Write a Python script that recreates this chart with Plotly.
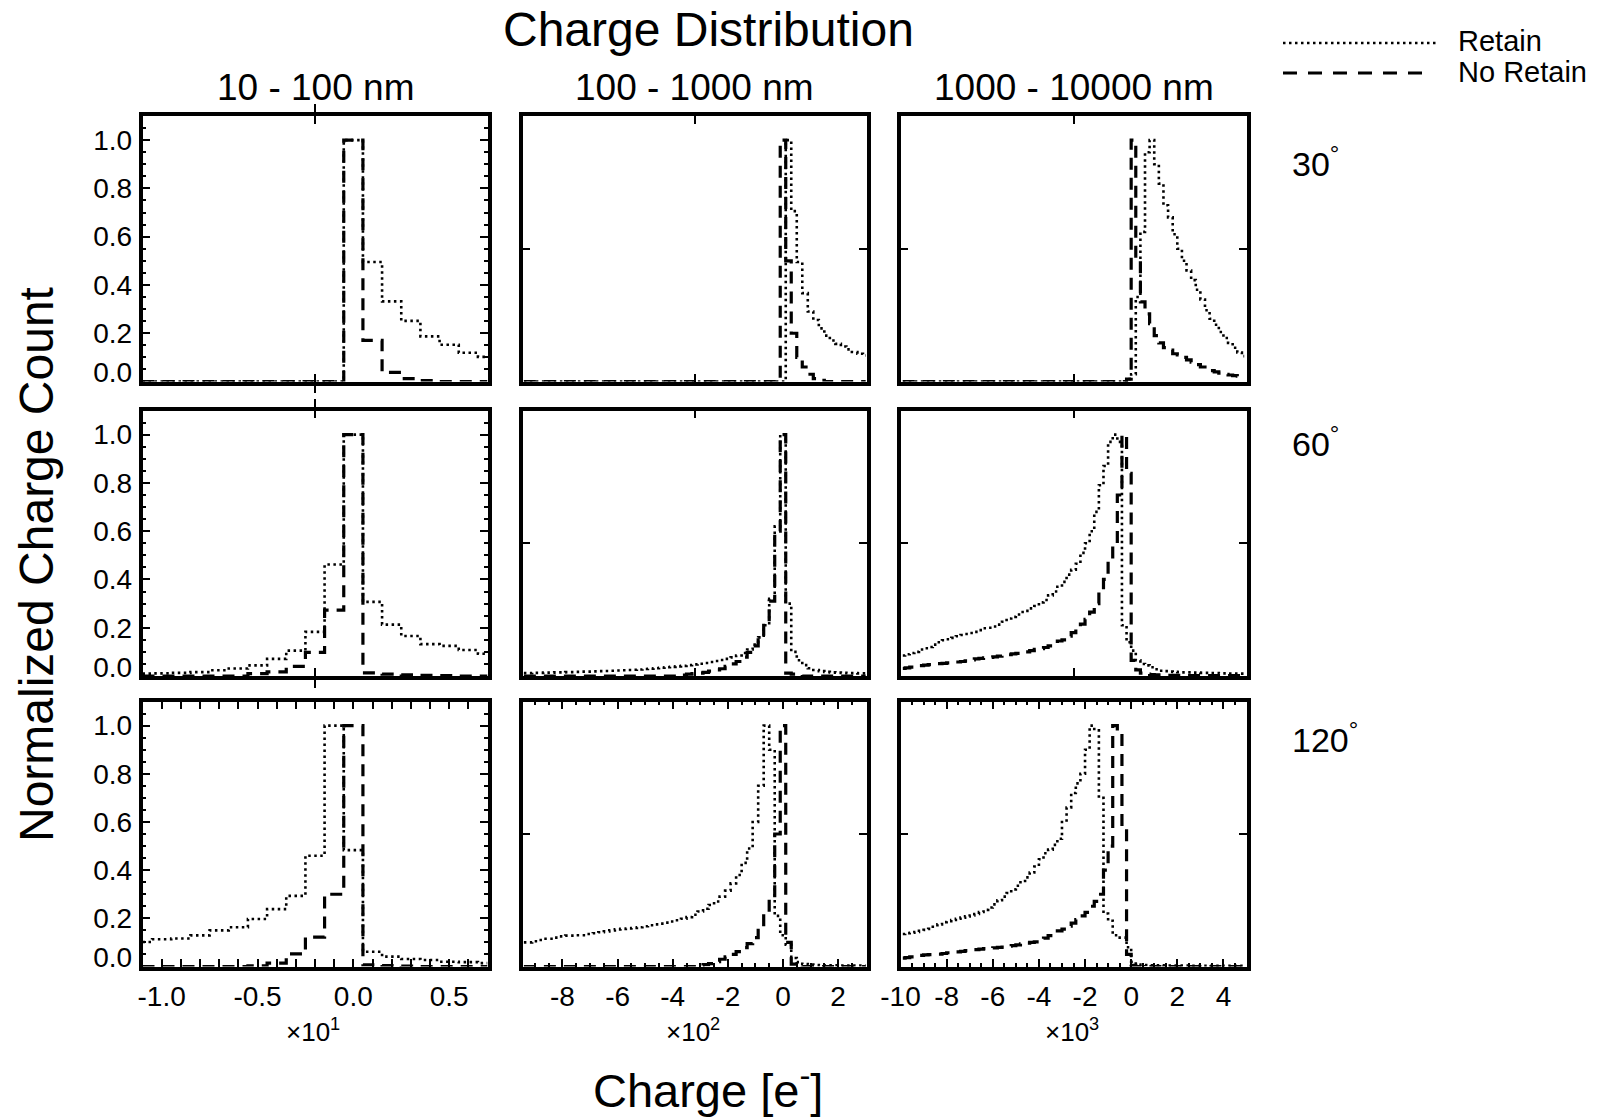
import plotly.graph_objects as go

# ---------------- data ----------------
# bin centres (x in units of 10^1, 10^2, 10^3 e- respectively)
X_C1 = [-1.1, -1.0, -0.9, -0.8, -0.7, -0.6, -0.5, -0.4, -0.3, -0.2,
        -0.1, 0.0, 0.1, 0.2, 0.3, 0.4, 0.5, 0.6, 0.7]
X_C2 = [-9.4, -9.2, -9.0, -8.8, -8.6, -8.4, -8.2, -8.0, -7.8, -7.6,
        -7.4, -7.2, -7.0, -6.8, -6.6, -6.4, -6.2, -6.0, -5.8, -5.6,
        -5.4, -5.2, -5.0, -4.8, -4.6, -4.4, -4.2, -4.0, -3.8, -3.6,
        -3.4, -3.2, -3.0, -2.8, -2.6, -2.4, -2.2, -2.0, -1.8, -1.6,
        -1.4, -1.2, -1.0, -0.8, -0.6, -0.4, -0.2, 0.0, 0.2, 0.4,
        0.6, 0.8, 1.0, 1.2, 1.4, 1.6, 1.8, 2.0, 2.2, 2.4,
        2.6, 2.8, 3.0]
X_C3 = [-9.9, -9.7, -9.5, -9.3, -9.1, -8.9, -8.7, -8.5, -8.3, -8.1,
        -7.9, -7.7, -7.5, -7.3, -7.1, -6.9, -6.7, -6.5, -6.3, -6.1,
        -5.9, -5.7, -5.5, -5.3, -5.1, -4.9, -4.7, -4.5, -4.3, -4.1,
        -3.9, -3.7, -3.5, -3.3, -3.1, -2.9, -2.7, -2.5, -2.3, -2.1,
        -1.9, -1.7, -1.5, -1.3, -1.1, -0.9, -0.7, -0.5, -0.3, -0.1,
        0.1, 0.3, 0.5, 0.7, 0.9, 1.1, 1.3, 1.5, 1.7, 1.9,
        2.1, 2.3, 2.5, 2.7, 2.9, 3.1, 3.3, 3.5, 3.7, 3.9,
        4.1, 4.3, 4.5, 4.7, 4.9]

# ---- 10 - 100 nm ----
RET_30_C1 = [0, 0, 0, 0, 0, 0, 0, 0, 0, 0,
             0, 1.0, 0.495, 0.332, 0.251, 0.187, 0.152, 0.119, 0.102]
NOR_30_C1 = [0, 0, 0, 0, 0, 0, 0, 0, 0, 0,
             0, 1.0, 0.17, 0.038, 0.012, 0.004, 0, 0, 0]
RET_60_C1 = [0.010, 0.011, 0.013, 0.016, 0.024, 0.031, 0.044, 0.071, 0.105, 0.183,
             0.462, 1.0, 0.307, 0.213, 0.166, 0.132, 0.125, 0.108, 0.092]
NOR_60_C1 = [0, 0, 0, 0, 0, 0, 0.010, 0.017, 0.040, 0.098,
             0.273, 1.0, 0.013, 0.008, 0.005, 0.003, 0.002, 0, 0]
RET_120_C1 = [0.102, 0.113, 0.116, 0.129, 0.150, 0.163, 0.197, 0.238, 0.293, 0.460,
              1.0, 0.483, 0.061, 0.041, 0.031, 0.027, 0.020, 0.018, 0.014]
NOR_120_C1 = [0, 0, 0, 0, 0, 0, 0.003, 0.014, 0.052, 0.122,
              0.300, 1.0, 0.007, 0.004, 0.002, 0, 0, 0, 0]

# ---- 100 - 1000 nm ----
RET_30_C2 = [0, 0, 0, 0, 0, 0, 0, 0, 0, 0,
             0, 0, 0, 0, 0, 0, 0, 0, 0, 0,
             0, 0, 0, 0, 0, 0, 0, 0, 0, 0,
             0, 0, 0, 0, 0, 0, 0, 0, 0, 0,
             0, 0, 0, 0, 0, 0, 0, 0, 1.0, 0.706,
             0.495, 0.366, 0.29, 0.255, 0.22, 0.19, 0.17, 0.156, 0.145, 0.133,
             0.122, 0.115, 0.108]
NOR_30_C2 = [0, 0, 0, 0, 0, 0, 0, 0, 0, 0,
             0, 0, 0, 0, 0, 0, 0, 0, 0, 0,
             0, 0, 0, 0, 0, 0, 0, 0, 0, 0,
             0, 0, 0, 0, 0, 0, 0, 0, 0, 0,
             0, 0, 0, 0, 0, 0, 0, 1.0, 0.50, 0.20,
             0.10, 0.06, 0.03, 0.012, 0.005, 0, 0, 0, 0, 0,
             0, 0, 0]
RET_60_C2 = [0.012, 0.012, 0.013, 0.013, 0.014, 0.014, 0.015, 0.015, 0.016, 0.016,
             0.017, 0.018, 0.018, 0.019, 0.020, 0.021, 0.022, 0.023, 0.024, 0.025,
             0.026, 0.027, 0.029, 0.030, 0.032, 0.034, 0.036, 0.038, 0.040, 0.042,
             0.045, 0.048, 0.051, 0.054, 0.058, 0.062, 0.066, 0.071, 0.077, 0.085,
             0.095, 0.110, 0.130, 0.160, 0.210, 0.320, 0.620, 1.0, 0.300, 0.100,
             0.065, 0.045, 0.032, 0.025, 0.020, 0.017, 0.015, 0.014, 0.013, 0.012,
             0.012, 0.011, 0.011]
NOR_60_C2 = [0, 0, 0, 0, 0, 0, 0, 0, 0, 0,
             0, 0, 0, 0, 0, 0, 0, 0, 0, 0,
             0, 0, 0, 0, 0, 0, 0, 0, 0, 0.004,
             0.008, 0.010, 0.012, 0.015, 0.020, 0.025, 0.030, 0.040, 0.050, 0.060,
             0.078, 0.098, 0.125, 0.150, 0.210, 0.310, 0.600, 1.0, 0.012, 0.008,
             0.005, 0, 0, 0, 0, 0, 0, 0, 0, 0,
             0, 0, 0]
RET_120_C2 = [0.100, 0.100, 0.105, 0.110, 0.115, 0.115, 0.120, 0.125, 0.128, 0.128,
              0.130, 0.130, 0.135, 0.138, 0.142, 0.146, 0.150, 0.154, 0.156, 0.158,
              0.160, 0.163, 0.167, 0.171, 0.175, 0.178, 0.182, 0.187, 0.192, 0.198,
              0.205, 0.215, 0.228, 0.240, 0.255, 0.270, 0.290, 0.315, 0.345, 0.380,
              0.430, 0.490, 0.600, 0.750, 1.0, 0.900, 0.210, 0.130, 0.090, 0.035,
              0.018, 0.010, 0.008, 0.006, 0.005, 0.005, 0.005, 0.005, 0.004, 0.004,
              0.004, 0.004, 0.004]
NOR_120_C2 = [0, 0, 0, 0, 0, 0, 0, 0, 0, 0,
              0, 0, 0, 0, 0, 0, 0, 0, 0, 0,
              0, 0, 0, 0, 0, 0, 0, 0, 0, 0,
              0, 0, 0.004, 0.008, 0.012, 0.020, 0.030, 0.040, 0.050, 0.062,
              0.078, 0.095, 0.120, 0.150, 0.210, 0.280, 0.550, 1.0, 0.100, 0.010,
              0.003, 0, 0, 0, 0, 0, 0, 0, 0, 0,
              0, 0, 0]

# ---- 1000 - 10000 nm ----
RET_30_C3 = [0, 0, 0, 0, 0, 0, 0, 0, 0, 0,
             0, 0, 0, 0, 0, 0, 0, 0, 0, 0,
             0, 0, 0, 0, 0, 0, 0, 0, 0, 0,
             0, 0, 0, 0, 0, 0, 0, 0, 0, 0,
             0, 0, 0, 0, 0, 0, 0, 0, 0, 0.010,
             0.030, 0.350, 0.620, 0.950, 1.0, 0.900, 0.820, 0.730, 0.680, 0.610,
             0.550, 0.500, 0.460, 0.420, 0.380, 0.340, 0.295, 0.260, 0.235, 0.205,
             0.180, 0.160, 0.140, 0.120, 0.105]
NOR_30_C3 = [0, 0, 0, 0, 0, 0, 0, 0, 0, 0,
             0, 0, 0, 0, 0, 0, 0, 0, 0, 0,
             0, 0, 0, 0, 0, 0, 0, 0, 0, 0,
             0, 0, 0, 0, 0, 0, 0, 0, 0, 0,
             0, 0, 0, 0, 0, 0, 0, 0, 0, 0.010,
             1.0, 0.500, 0.330, 0.280, 0.240, 0.190, 0.160, 0.140, 0.130, 0.115,
             0.110, 0.100, 0.090, 0.080, 0.070, 0.060, 0.050, 0.045, 0.040, 0.035,
             0.030, 0.027, 0.024, 0.022, 0.020]
RET_60_C3 = [0.085, 0.090, 0.095, 0.100, 0.110, 0.115, 0.120, 0.130, 0.140, 0.148,
             0.152, 0.158, 0.165, 0.170, 0.174, 0.178, 0.183, 0.190, 0.198, 0.200,
             0.205, 0.213, 0.225, 0.238, 0.245, 0.255, 0.265, 0.270, 0.280, 0.290,
             0.305, 0.315, 0.334, 0.350, 0.370, 0.390, 0.420, 0.440, 0.465, 0.510,
             0.550, 0.600, 0.680, 0.790, 0.870, 0.970, 1.0, 0.970, 0.210, 0.140,
             0.105, 0.065, 0.050, 0.044, 0.036, 0.028, 0.022, 0.020, 0.018, 0.017,
             0.016, 0.015, 0.015, 0.014, 0.014, 0.013, 0.013, 0.012, 0.012, 0.011,
             0.011, 0.010, 0.010, 0.010, 0.010]
NOR_60_C3 = [0.031, 0.034, 0.037, 0.040, 0.043, 0.045, 0.047, 0.049, 0.051, 0.052,
             0.054, 0.056, 0.058, 0.060, 0.063, 0.067, 0.071, 0.073, 0.075, 0.077,
             0.079, 0.082, 0.085, 0.088, 0.092, 0.094, 0.097, 0.100, 0.105, 0.110,
             0.113, 0.118, 0.125, 0.135, 0.145, 0.150, 0.165, 0.180, 0.195, 0.215,
             0.235, 0.265, 0.300, 0.350, 0.400, 0.480, 0.550, 0.750, 1.0, 0.840,
             0.065, 0.025, 0.012, 0.008, 0.006, 0.005, 0.004, 0.003, 0.003, 0.003,
             0.003, 0.003, 0.002, 0.002, 0.002, 0.002, 0.002, 0.002, 0.002, 0.002,
             0.002, 0.002, 0.002, 0.002, 0.002]
RET_120_C3 = [0.135, 0.138, 0.140, 0.143, 0.148, 0.152, 0.156, 0.165, 0.175, 0.184,
              0.188, 0.193, 0.198, 0.203, 0.208, 0.212, 0.218, 0.226, 0.235, 0.245,
              0.258, 0.275, 0.290, 0.305, 0.320, 0.335, 0.355, 0.370, 0.390, 0.415,
              0.445, 0.470, 0.485, 0.505, 0.530, 0.600, 0.660, 0.720, 0.760, 0.800,
              0.900, 1.0, 0.980, 0.700, 0.220, 0.190, 0.130, 0.120, 0.120, 0.080,
              0.020, 0.008, 0.007, 0.006, 0.005, 0.005, 0.005, 0.004, 0.004, 0.004,
              0.004, 0.004, 0.004, 0.003, 0.003, 0.003, 0.003, 0.003, 0.003, 0.003,
              0.003, 0.003, 0.003, 0.003, 0.003]
NOR_120_C3 = [0.035, 0.037, 0.040, 0.043, 0.046, 0.048, 0.049, 0.050, 0.051, 0.054,
              0.057, 0.059, 0.061, 0.063, 0.066, 0.068, 0.070, 0.072, 0.074, 0.075,
              0.077, 0.079, 0.081, 0.084, 0.087, 0.090, 0.094, 0.097, 0.100, 0.102,
              0.108, 0.118, 0.128, 0.140, 0.148, 0.155, 0.168, 0.180, 0.195, 0.210,
              0.225, 0.250, 0.270, 0.300, 0.400, 0.500, 1.0, 0.970, 0.590, 0.050,
              0.005, 0, 0, 0, 0, 0, 0, 0, 0, 0,
              0, 0, 0, 0, 0, 0, 0, 0, 0, 0,
              0, 0, 0, 0, 0]

COL_TITLES = ["10 - 100 nm", "100 - 1000 nm", "1000 - 10000 nm"]
ROW_TITLES = ["30<sup>°</sup>", "60<sup>°</sup>", "120<sup>°</sup>"]
SCALE_LABELS = ["×10<sup>1</sup>", "×10<sup>2</sup>", "×10<sup>3</sup>"]
X_RANGES = [[-1.1, 0.7], [-9.45, 3.03], [-10.0, 5.0]]
X_TICKVALS = [[-1.0, -0.5, 0.0, 0.5], [-8, -6, -4, -2, 0, 2], [-10, -8, -6, -4, -2, 0, 2, 4]]
X_TICKTEXT = [["-1.0", "-0.5", "0.0", "0.5"], ["-8", "-6", "-4", "-2", "0", "2"],
              ["-10", "-8", "-6", "-4", "-2", "0", "2", "4"]]
X_MINOR = [0.1, 0.5, 0.5]
Y_TICKVALS = [0.0, 0.2, 0.4, 0.6, 0.8, 1.0]
Y_TICKTEXT = ["", "0.2", "0.4", "0.6", "0.8", "1.0"]

XS = [X_C1, X_C2, X_C3]
PANELS = [
    [(RET_30_C1, NOR_30_C1), (RET_30_C2, NOR_30_C2), (RET_30_C3, NOR_30_C3)],
    [(RET_60_C1, NOR_60_C1), (RET_60_C2, NOR_60_C2), (RET_60_C3, NOR_60_C3)],
    [(RET_120_C1, NOR_120_C1), (RET_120_C2, NOR_120_C2), (RET_120_C3, NOR_120_C3)],
]
for r in range(3):
    for c in range(3):
        for s in PANELS[r][c]:
            assert len(s) == len(XS[c]), f"length mismatch row {r} col {c}: {len(s)} vs {len(XS[c])}"

# ---------------- layout geometry (pixels) ----------------
W, H = 1610, 1120
COL_PX = [(142.5, 487.5), (522.5, 866.5), (900.5, 1246.5)]
ROW_PX = [(116.0, 381.5), (410.5, 676.0), (701.5, 966.5)]
FONT = "Liberation Sans, Arial, Helvetica, sans-serif"
TICKFONT = dict(family=FONT, size=28, color="black")


def px(x):
    return x / W


def py(y):
    return 1 - y / H


RET_LINE = dict(color="black", width=2.6, dash="2.5px,3.5px")
NOR_LINE = dict(color="black", width=3.2, dash="12px,8px")

fig = go.Figure()
layout = {}
for r in range(3):
    for c in range(3):
        n = r * 3 + c + 1
        xa = "x" if n == 1 else f"x{n}"
        ya = "y" if n == 1 else f"y{n}"
        ret, nor = PANELS[r][c]
        fig.add_trace(go.Scatter(x=XS[c], y=nor, mode="lines", line=NOR_LINE,
                                 line_shape="hvh", xaxis=xa, yaxis=ya,
                                 showlegend=False, name="No Retain"))
        fig.add_trace(go.Scatter(x=XS[c], y=ret, mode="lines", line=RET_LINE,
                                 line_shape="hvh", xaxis=xa, yaxis=ya,
                                 showlegend=False, name="Retain"))
        common = dict(showline=True, linewidth=3.5, linecolor="black", mirror="allticks",
                      ticks="inside", tickwidth=2, tickcolor="black", showgrid=False,
                      zeroline=False, fixedrange=True, automargin=False, tickfont=TICKFONT)
        xr = X_RANGES[c]
        if r == 2:
            xticks = dict(tickvals=X_TICKVALS[c], ticktext=X_TICKTEXT[c], ticklen=8,
                          showticklabels=True, ticklabelstandoff=2,
                          minor=dict(dtick=X_MINOR[c], tick0=0, ticklen=4, ticks="inside",
                                     tickwidth=2, tickcolor="black"))
        else:
            xticks = dict(tickvals=[(xr[0] + xr[1]) / 2], ticklen=8, showticklabels=False)
        layout["xaxis" if n == 1 else f"xaxis{n}"] = dict(
            domain=[px(COL_PX[c][0]), px(COL_PX[c][1])], range=xr,
            anchor=ya, **common, **xticks)
        if c == 0:
            yticks = dict(tickvals=Y_TICKVALS, ticktext=Y_TICKTEXT, ticklen=8,
                          showticklabels=True, ticklabelstandoff=1,
                          minor=dict(dtick=0.05, tick0=0, ticklen=4, ticks="inside",
                                     tickwidth=2, tickcolor="black"))
        else:
            yticks = dict(tickvals=[0.55], ticklen=8, showticklabels=False)
        layout["yaxis" if n == 1 else f"yaxis{n}"] = dict(
            domain=[py(ROW_PX[r][1]), py(ROW_PX[r][0])], range=[0, 1.1],
            anchor=xa, **common, **yticks)

# separate axes carrying only the "0.0" label, lifted above the bottom frame
for r in range(3):
    n_main = r * 3 + 1
    ya_main = "y" if n_main == 1 else f"y{n_main}"
    xa_main = "x" if n_main == 1 else f"x{n_main}"
    k = 10 + r
    layout[f"yaxis{k}"] = dict(
        overlaying=ya_main, anchor=xa_main, side="left", range=[0, 1.1],
        domain=[py(ROW_PX[r][1]), py(ROW_PX[r][0])],
        tickvals=[0.0], ticktext=["0.0"], ticks="", showline=True, linewidth=3.5,
        linecolor="rgba(0,0,0,0)", showgrid=False, zeroline=False, ticklabelshift=-9,
        ticklabelstandoff=1, fixedrange=True, automargin=False, tickfont=TICKFONT)
    fig.add_trace(go.Scatter(x=[None], y=[None], xaxis=xa_main, yaxis=f"y{k}",
                             showlegend=False, hoverinfo="skip"))

annotations = []
annotations.append(dict(text="Charge Distribution", x=px(708), y=py(29), xref="paper", yref="paper",
                        showarrow=False, font=dict(family=FONT, size=48, color="black"),
                        xanchor="center", yanchor="middle"))
for c in range(3):
    cx = (COL_PX[c][0] + COL_PX[c][1]) / 2
    annotations.append(dict(text=COL_TITLES[c], x=px(cx), y=py(87), xref="paper", yref="paper",
                            showarrow=False, font=dict(family=FONT, size=37, color="black"),
                            xanchor="center", yanchor="middle"))
    annotations.append(dict(text=SCALE_LABELS[c], x=px(cx - 2), y=py(1030), xref="paper", yref="paper",
                            showarrow=False, font=dict(family=FONT, size=26, color="black"),
                            xanchor="center", yanchor="middle"))
for r, yy in enumerate([161, 441, 737]):
    annotations.append(dict(text=ROW_TITLES[r], x=px(1290), y=py(yy), xref="paper", yref="paper",
                            showarrow=False, font=dict(family=FONT, size=34, color="black"),
                            xanchor="left", yanchor="middle"))
annotations.append(dict(text="Normalized Charge Count", x=px(36), y=py(565), xref="paper", yref="paper",
                        showarrow=False, textangle=-90, font=dict(family=FONT, size=48, color="black"),
                        xanchor="center", yanchor="middle"))
annotations.append(dict(text="Charge [e<sup>-</sup>]", x=px(708), y=py(1087), xref="paper", yref="paper",
                        showarrow=False, font=dict(family=FONT, size=47, color="black"),
                        xanchor="center", yanchor="middle"))
# legend
annotations.append(dict(text="Retain", x=px(1456), y=py(41), xref="paper", yref="paper",
                        showarrow=False, font=dict(family=FONT, size=29, color="black"),
                        xanchor="left", yanchor="middle"))
annotations.append(dict(text="No Retain", x=px(1456), y=py(72), xref="paper", yref="paper",
                        showarrow=False, font=dict(family=FONT, size=29, color="black"),
                        xanchor="left", yanchor="middle"))
shapes = [
    dict(type="line", xref="paper", yref="paper", x0=px(1283), x1=px(1437), y0=py(43), y1=py(43),
         line=dict(color="black", width=2.6, dash="2.5px,3.5px")),
    dict(type="line", xref="paper", yref="paper", x0=px(1283), x1=px(1428), y0=py(73), y1=py(73),
         line=dict(color="black", width=3.2, dash="14px,11px")),
]

fig.update_layout(width=W, height=H, margin=dict(l=0, r=0, t=0, b=0, autoexpand=False),
                  autosize=False, plot_bgcolor="white", paper_bgcolor="white", showlegend=False,
                  annotations=annotations, shapes=shapes,
                  font=dict(family=FONT, color="black"), **layout)
fig.write_html("out.html")
